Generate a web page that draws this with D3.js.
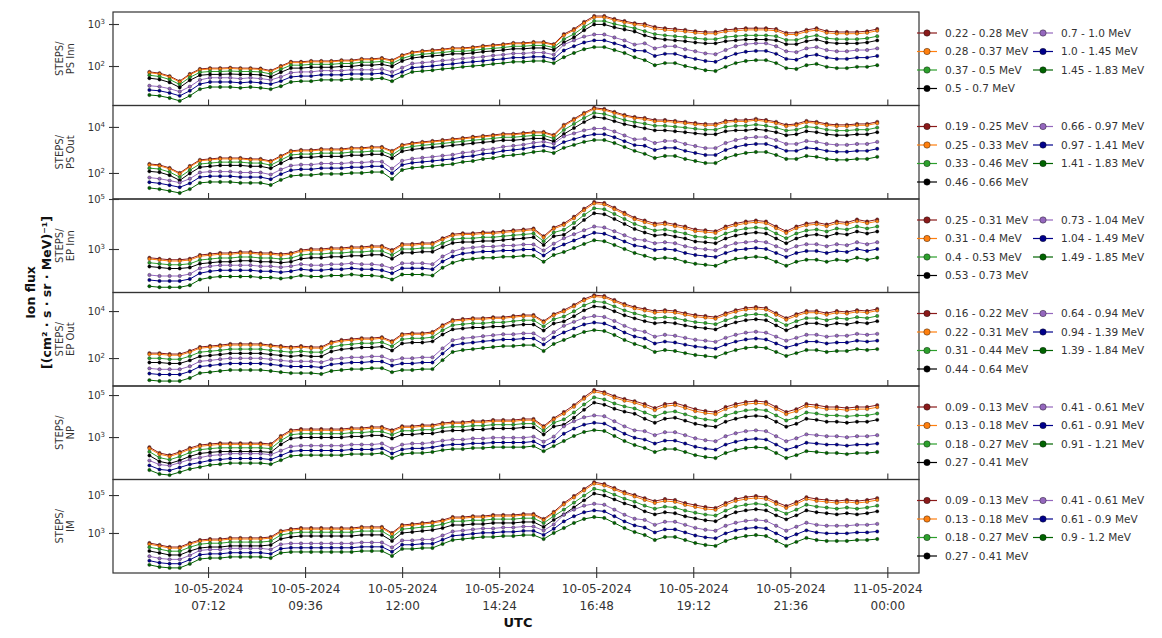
<!DOCTYPE html>
<html>
<head>
<meta charset="utf-8">
<script src="https://cdn.jsdelivr.net/npm/d3@7"></script>
<style>
  body { margin: 0; background: #fff; }
  svg text { font-family: "DejaVu Sans", sans-serif; }
</style>
</head>
<body>
<svg id="chart" width="1162" height="638"></svg>
<script>
// ---- data -------------------------------------------------------------
// Sample times on 10-05-2024 (UTC), 15-minute cadence
const sampleTimes = ["05:45","06:00","06:15","06:30","06:45","07:00","07:15","07:30","07:45","08:00","08:15","08:30","08:45","09:00","09:15","09:30","09:45","10:00","10:15","10:30","10:45","11:00","11:15","11:30","11:45","12:00","12:15","12:30","12:45","13:00","13:15","13:30","13:45","14:00","14:15","14:30","14:45","15:00","15:15","15:30","15:45","16:00","16:15","16:30","16:45","17:00","17:15","17:30","17:45","18:00","18:15","18:30","18:45","19:00","19:15","19:30","19:45","20:00","20:15","20:30","20:45","21:00","21:15","21:30","21:45","22:00","22:15","22:30","22:45","23:00","23:15","23:30","23:45"];

const xTickTimes = ["2024-05-10 07:12","2024-05-10 09:36","2024-05-10 12:00","2024-05-10 14:24","2024-05-10 16:48","2024-05-10 19:12","2024-05-10 21:36","2024-05-11 00:00"];
const xTickLabels = [["10-05-2024","07:12"],["10-05-2024","09:36"],["10-05-2024","12:00"],["10-05-2024","14:24"],["10-05-2024","16:48"],["10-05-2024","19:12"],["10-05-2024","21:36"],["11-05-2024","00:00"]];

const panelNames = ["PS Inn","PS Out","EP Inn","EP Out","NP","IM"];
// labelled decades (exponents) on each panel's flux axis
const yTickExponents = [[2,3],[2,4],[3,5],[2,4],[3,5],[3,5]];

const psInnBands = ["0.22 - 0.28 MeV","0.28 - 0.37 MeV","0.37 - 0.5 MeV","0.5 - 0.7 MeV","0.7 - 1.0 MeV","1.0 - 1.45 MeV","1.45 - 1.83 MeV"];
const psOutBands = ["0.19 - 0.25 MeV","0.25 - 0.33 MeV","0.33 - 0.46 MeV","0.46 - 0.66 MeV","0.66 - 0.97 MeV","0.97 - 1.41 MeV","1.41 - 1.83 MeV"];
const epInnBands = ["0.25 - 0.31 MeV","0.31 - 0.4 MeV","0.4 - 0.53 MeV","0.53 - 0.73 MeV","0.73 - 1.04 MeV","1.04 - 1.49 MeV","1.49 - 1.85 MeV"];
const epOutBands = ["0.16 - 0.22 MeV","0.22 - 0.31 MeV","0.31 - 0.44 MeV","0.44 - 0.64 MeV","0.64 - 0.94 MeV","0.94 - 1.39 MeV","1.39 - 1.84 MeV"];
const npBands = ["0.09 - 0.13 MeV","0.13 - 0.18 MeV","0.18 - 0.27 MeV","0.27 - 0.41 MeV","0.41 - 0.61 MeV","0.61 - 0.91 MeV","0.91 - 1.21 MeV"];
const imBands = ["0.09 - 0.13 MeV","0.13 - 0.18 MeV","0.18 - 0.27 MeV","0.27 - 0.41 MeV","0.41 - 0.61 MeV","0.61 - 0.9 MeV","0.9 - 1.2 MeV"];

// log10 of ion flux [(cm^2 s sr MeV)^-1], one row per energy channel (low -> high energy)
const psInnFlux = [
  [1.86,1.83,1.76,1.64,1.81,1.93,1.95,1.95,1.96,1.95,1.95,1.94,1.89,2.00,2.10,2.10,2.12,2.12,2.12,2.14,2.14,2.17,2.17,2.19,2.14,2.26,2.33,2.36,2.38,2.40,2.43,2.43,2.45,2.48,2.50,2.52,2.55,2.55,2.57,2.57,2.52,2.76,2.88,3.05,3.19,3.19,3.12,3.07,3.02,3.00,2.93,2.90,2.88,2.86,2.83,2.81,2.81,2.86,2.88,2.90,2.90,2.90,2.88,2.79,2.79,2.86,2.90,2.83,2.81,2.81,2.81,2.83,2.88],
  [1.84,1.81,1.74,1.62,1.79,1.91,1.93,1.93,1.94,1.93,1.93,1.92,1.87,1.98,2.08,2.08,2.10,2.10,2.10,2.12,2.12,2.15,2.15,2.17,2.12,2.24,2.31,2.34,2.36,2.38,2.41,2.41,2.43,2.46,2.48,2.50,2.53,2.53,2.55,2.55,2.50,2.73,2.85,3.02,3.16,3.16,3.09,3.04,2.99,2.96,2.89,2.86,2.84,2.82,2.79,2.77,2.77,2.82,2.84,2.86,2.86,2.86,2.84,2.75,2.75,2.82,2.86,2.79,2.77,2.77,2.77,2.79,2.84],
  [1.78,1.75,1.68,1.56,1.73,1.85,1.87,1.87,1.88,1.87,1.87,1.86,1.81,1.92,2.02,2.02,2.04,2.04,2.04,2.06,2.06,2.09,2.09,2.11,2.06,2.18,2.25,2.28,2.30,2.32,2.35,2.35,2.37,2.40,2.42,2.44,2.47,2.47,2.49,2.49,2.44,2.64,2.76,2.93,3.07,3.07,3.00,2.95,2.90,2.83,2.76,2.73,2.71,2.69,2.66,2.64,2.64,2.69,2.71,2.73,2.73,2.73,2.71,2.62,2.62,2.69,2.73,2.66,2.64,2.64,2.64,2.66,2.71],
  [1.71,1.68,1.61,1.49,1.66,1.78,1.80,1.80,1.81,1.80,1.80,1.79,1.74,1.85,1.95,1.95,1.97,1.97,1.97,1.99,1.99,2.02,2.02,2.04,1.99,2.12,2.19,2.22,2.24,2.26,2.29,2.29,2.31,2.34,2.36,2.38,2.41,2.41,2.43,2.43,2.38,2.56,2.68,2.85,2.99,2.99,2.92,2.87,2.82,2.73,2.66,2.63,2.61,2.59,2.56,2.54,2.54,2.59,2.61,2.63,2.63,2.63,2.61,2.52,2.52,2.59,2.63,2.56,2.54,2.54,2.54,2.56,2.61],
  [1.53,1.51,1.46,1.39,1.51,1.67,1.72,1.72,1.72,1.70,1.72,1.70,1.67,1.74,1.84,1.86,1.86,1.89,1.89,1.89,1.91,1.91,1.91,1.93,1.86,1.96,2.06,2.08,2.10,2.13,2.15,2.18,2.20,2.22,2.25,2.27,2.30,2.30,2.32,2.32,2.27,2.51,2.61,2.70,2.75,2.75,2.68,2.61,2.51,2.54,2.42,2.47,2.47,2.40,2.35,2.30,2.28,2.38,2.47,2.52,2.54,2.54,2.47,2.35,2.33,2.42,2.45,2.38,2.35,2.35,2.38,2.38,2.42],
  [1.43,1.41,1.36,1.29,1.41,1.57,1.62,1.62,1.62,1.60,1.62,1.60,1.57,1.64,1.74,1.76,1.76,1.79,1.79,1.79,1.81,1.81,1.81,1.83,1.76,1.86,1.96,1.98,2.00,2.03,2.05,2.08,2.10,2.12,2.15,2.17,2.20,2.20,2.22,2.22,2.17,2.37,2.47,2.56,2.61,2.61,2.54,2.47,2.37,2.36,2.24,2.29,2.29,2.22,2.17,2.12,2.10,2.20,2.29,2.34,2.36,2.36,2.29,2.17,2.15,2.24,2.27,2.20,2.17,2.17,2.20,2.20,2.24],
  [1.31,1.29,1.24,1.17,1.29,1.45,1.50,1.50,1.50,1.48,1.50,1.48,1.45,1.52,1.62,1.64,1.64,1.67,1.67,1.67,1.69,1.69,1.69,1.71,1.64,1.76,1.86,1.88,1.90,1.93,1.95,1.98,2.00,2.02,2.05,2.07,2.10,2.10,2.12,2.12,2.07,2.21,2.31,2.40,2.45,2.45,2.38,2.31,2.21,2.14,2.02,2.07,2.07,2.00,1.95,1.90,1.88,1.98,2.07,2.12,2.14,2.14,2.07,1.95,1.93,2.02,2.05,1.98,1.95,1.95,1.98,1.98,2.02]
];

const psOutFlux = [
  [2.39,2.35,2.22,2.00,2.30,2.57,2.61,2.65,2.65,2.65,2.61,2.61,2.52,2.74,2.96,3.00,3.00,3.04,3.04,3.04,3.09,3.09,3.13,3.13,2.96,3.22,3.30,3.35,3.39,3.43,3.48,3.52,3.57,3.61,3.65,3.70,3.70,3.74,3.78,3.78,3.65,4.09,4.35,4.61,4.83,4.78,4.65,4.52,4.43,4.39,4.30,4.30,4.26,4.22,4.17,4.13,4.13,4.26,4.30,4.30,4.35,4.30,4.22,4.09,4.13,4.26,4.22,4.13,4.09,4.09,4.13,4.13,4.22],
  [2.35,2.31,2.18,1.96,2.26,2.53,2.57,2.61,2.61,2.61,2.57,2.57,2.48,2.70,2.92,2.96,2.96,3.00,3.00,3.00,3.05,3.05,3.09,3.09,2.92,3.18,3.26,3.31,3.35,3.39,3.44,3.48,3.53,3.57,3.61,3.66,3.66,3.70,3.74,3.74,3.61,4.04,4.30,4.56,4.78,4.73,4.60,4.47,4.38,4.33,4.24,4.24,4.20,4.16,4.11,4.07,4.07,4.20,4.24,4.24,4.29,4.24,4.16,4.03,4.07,4.20,4.16,4.07,4.03,4.03,4.07,4.07,4.16],
  [2.21,2.17,2.04,1.82,2.12,2.39,2.43,2.47,2.47,2.47,2.43,2.43,2.34,2.56,2.78,2.82,2.82,2.86,2.86,2.86,2.91,2.91,2.95,2.95,2.78,3.07,3.15,3.20,3.24,3.28,3.33,3.37,3.42,3.46,3.50,3.55,3.55,3.59,3.63,3.63,3.50,3.87,4.13,4.39,4.61,4.56,4.43,4.30,4.21,4.14,4.05,4.05,4.01,3.97,3.92,3.88,3.88,4.01,4.05,4.05,4.10,4.05,3.97,3.84,3.88,4.01,3.97,3.88,3.84,3.84,3.88,3.88,3.97],
  [2.07,2.03,1.90,1.68,1.98,2.25,2.29,2.33,2.33,2.33,2.29,2.29,2.20,2.42,2.64,2.68,2.68,2.72,2.72,2.72,2.77,2.77,2.81,2.81,2.64,2.94,3.02,3.07,3.11,3.15,3.20,3.24,3.29,3.33,3.37,3.42,3.42,3.46,3.50,3.50,3.37,3.69,3.95,4.21,4.43,4.38,4.25,4.12,4.03,3.94,3.85,3.85,3.81,3.77,3.72,3.68,3.68,3.81,3.85,3.85,3.90,3.85,3.77,3.64,3.68,3.81,3.77,3.68,3.64,3.64,3.68,3.68,3.77],
  [1.80,1.75,1.67,1.58,1.75,2.02,2.06,2.06,2.06,2.02,2.02,2.02,1.93,2.15,2.32,2.36,2.36,2.41,2.41,2.41,2.45,2.45,2.49,2.49,2.19,2.53,2.62,2.66,2.70,2.75,2.79,2.88,2.92,3.01,3.05,3.14,3.18,3.23,3.31,3.36,3.27,3.59,3.72,3.85,3.93,3.93,3.80,3.63,3.46,3.48,3.30,3.39,3.39,3.26,3.17,3.08,3.08,3.30,3.43,3.52,3.56,3.56,3.43,3.26,3.26,3.39,3.35,3.26,3.22,3.22,3.26,3.26,3.35],
  [1.60,1.55,1.47,1.38,1.55,1.82,1.86,1.86,1.86,1.82,1.82,1.82,1.73,1.95,2.12,2.16,2.16,2.21,2.21,2.21,2.25,2.25,2.29,2.29,1.99,2.35,2.44,2.48,2.52,2.57,2.61,2.70,2.74,2.83,2.87,2.96,3.00,3.05,3.13,3.18,3.09,3.34,3.47,3.60,3.68,3.68,3.55,3.38,3.21,3.18,3.00,3.09,3.09,2.96,2.87,2.78,2.78,3.00,3.13,3.22,3.26,3.26,3.13,2.96,2.96,3.09,3.05,2.96,2.92,2.92,2.96,2.96,3.05],
  [1.35,1.30,1.22,1.13,1.30,1.57,1.61,1.61,1.61,1.57,1.57,1.57,1.48,1.70,1.87,1.91,1.91,1.96,1.96,1.96,2.00,2.00,2.04,2.04,1.74,2.13,2.22,2.26,2.30,2.35,2.39,2.48,2.52,2.61,2.65,2.74,2.78,2.83,2.91,2.96,2.87,3.09,3.22,3.35,3.43,3.43,3.30,3.13,2.96,2.83,2.65,2.74,2.74,2.61,2.52,2.43,2.43,2.65,2.78,2.87,2.91,2.91,2.78,2.61,2.61,2.74,2.70,2.61,2.57,2.57,2.61,2.61,2.70]
];

const epInnFlux = [
  [2.65,2.61,2.57,2.57,2.61,2.76,2.80,2.84,2.84,2.88,2.88,2.84,2.84,2.80,2.84,2.96,3.00,3.00,3.04,3.04,3.08,3.08,3.12,3.12,2.96,3.20,3.20,3.24,3.24,3.43,3.59,3.63,3.63,3.67,3.67,3.71,3.75,3.78,3.82,3.51,3.86,4.02,4.29,4.61,4.88,4.84,4.65,4.45,4.25,4.14,4.02,4.06,3.98,3.90,3.78,3.75,3.71,3.90,4.02,4.10,4.14,4.10,3.90,3.71,3.90,4.02,4.06,3.98,4.10,4.06,4.18,4.10,4.18],
  [2.60,2.56,2.52,2.52,2.56,2.71,2.75,2.79,2.79,2.83,2.83,2.79,2.79,2.75,2.79,2.91,2.95,2.95,2.99,2.99,3.03,3.03,3.07,3.07,2.91,3.15,3.15,3.19,3.19,3.38,3.54,3.58,3.58,3.62,3.62,3.66,3.70,3.73,3.77,3.46,3.81,3.96,4.23,4.55,4.82,4.78,4.59,4.39,4.19,4.07,3.95,3.99,3.91,3.83,3.71,3.68,3.64,3.83,3.95,4.03,4.07,4.03,3.83,3.64,3.83,3.95,3.99,3.91,4.03,3.99,4.11,4.03,4.11],
  [2.45,2.41,2.37,2.37,2.41,2.56,2.60,2.64,2.64,2.68,2.68,2.64,2.64,2.60,2.64,2.76,2.80,2.80,2.84,2.84,2.88,2.88,2.92,2.92,2.76,3.00,3.00,3.04,3.04,3.23,3.39,3.43,3.43,3.47,3.47,3.51,3.55,3.58,3.62,3.31,3.66,3.77,4.04,4.36,4.63,4.59,4.40,4.20,4.00,3.86,3.74,3.78,3.70,3.62,3.50,3.47,3.43,3.62,3.74,3.82,3.86,3.82,3.62,3.43,3.62,3.74,3.78,3.70,3.82,3.78,3.90,3.82,3.90],
  [2.30,2.26,2.22,2.22,2.26,2.41,2.45,2.49,2.49,2.53,2.53,2.49,2.49,2.45,2.49,2.61,2.65,2.65,2.69,2.69,2.73,2.73,2.77,2.77,2.61,2.85,2.85,2.89,2.89,3.08,3.24,3.28,3.28,3.32,3.32,3.36,3.40,3.43,3.47,3.16,3.51,3.57,3.84,4.16,4.43,4.39,4.20,4.00,3.80,3.66,3.54,3.58,3.50,3.42,3.30,3.27,3.23,3.42,3.54,3.62,3.66,3.62,3.42,3.23,3.42,3.54,3.58,3.50,3.62,3.58,3.70,3.62,3.70],
  [1.96,1.92,1.92,1.92,2.00,2.23,2.31,2.35,2.35,2.35,2.35,2.31,2.31,2.27,2.31,2.39,2.35,2.35,2.39,2.39,2.43,2.39,2.39,2.35,2.23,2.43,2.43,2.43,2.39,2.70,2.90,3.02,3.06,3.10,3.10,3.14,3.14,3.18,3.18,2.94,3.21,3.43,3.59,3.75,3.90,3.86,3.71,3.55,3.39,3.35,3.23,3.27,3.23,3.11,3.03,2.99,2.95,3.11,3.23,3.27,3.31,3.27,3.11,2.95,3.11,3.19,3.19,3.11,3.19,3.15,3.27,3.19,3.27],
  [1.76,1.72,1.72,1.72,1.80,2.03,2.11,2.15,2.15,2.15,2.15,2.11,2.11,2.07,2.11,2.19,2.15,2.15,2.19,2.19,2.23,2.19,2.19,2.15,2.03,2.23,2.23,2.23,2.19,2.50,2.70,2.82,2.86,2.90,2.90,2.94,2.94,2.98,2.98,2.74,3.01,3.18,3.34,3.50,3.65,3.61,3.46,3.30,3.14,3.08,2.96,3.00,2.96,2.84,2.76,2.72,2.68,2.84,2.96,3.00,3.04,3.00,2.84,2.68,2.84,2.92,2.92,2.84,2.92,2.88,3.00,2.92,3.00],
  [1.51,1.47,1.47,1.47,1.55,1.78,1.86,1.90,1.90,1.90,1.90,1.86,1.86,1.82,1.86,1.94,1.90,1.90,1.94,1.94,1.98,1.94,1.94,1.90,1.78,1.98,1.98,1.98,1.94,2.25,2.45,2.57,2.61,2.65,2.65,2.69,2.69,2.73,2.73,2.49,2.76,2.88,3.04,3.20,3.35,3.31,3.16,3.00,2.84,2.73,2.61,2.65,2.61,2.49,2.41,2.37,2.33,2.49,2.61,2.65,2.69,2.65,2.49,2.33,2.49,2.57,2.57,2.49,2.57,2.53,2.65,2.57,2.65]
];

const epOutFlux = [
  [2.21,2.21,2.17,2.17,2.30,2.47,2.51,2.55,2.60,2.60,2.60,2.60,2.55,2.51,2.47,2.51,2.47,2.47,2.68,2.77,2.81,2.85,2.85,2.89,2.72,3.02,3.06,3.06,3.11,3.40,3.62,3.66,3.70,3.70,3.74,3.74,3.79,3.83,3.83,3.57,3.87,4.04,4.26,4.51,4.68,4.64,4.47,4.30,4.17,4.09,4.00,4.04,4.00,3.91,3.83,3.79,3.74,3.91,4.04,4.13,4.17,4.13,3.91,3.70,3.87,4.00,4.00,3.91,4.00,3.96,4.04,4.00,4.09],
  [2.16,2.16,2.12,2.12,2.25,2.42,2.46,2.50,2.55,2.55,2.55,2.55,2.50,2.46,2.42,2.46,2.42,2.42,2.63,2.72,2.76,2.80,2.80,2.84,2.67,2.97,3.01,3.01,3.06,3.35,3.57,3.61,3.65,3.65,3.69,3.69,3.74,3.78,3.78,3.52,3.82,3.98,4.20,4.45,4.62,4.58,4.41,4.24,4.11,4.02,3.93,3.97,3.93,3.84,3.76,3.72,3.67,3.84,3.97,4.06,4.10,4.06,3.84,3.63,3.80,3.93,3.93,3.84,3.93,3.89,3.97,3.93,4.02],
  [1.99,1.99,1.95,1.95,2.08,2.25,2.29,2.33,2.38,2.38,2.38,2.38,2.33,2.29,2.25,2.29,2.25,2.25,2.46,2.55,2.59,2.63,2.63,2.67,2.50,2.80,2.84,2.84,2.89,3.18,3.40,3.44,3.48,3.48,3.52,3.52,3.57,3.61,3.61,3.35,3.65,3.77,3.99,4.24,4.41,4.37,4.20,4.03,3.90,3.79,3.70,3.74,3.70,3.61,3.53,3.49,3.44,3.61,3.74,3.83,3.87,3.83,3.61,3.40,3.57,3.70,3.70,3.61,3.70,3.66,3.74,3.70,3.79],
  [1.81,1.81,1.77,1.77,1.90,2.07,2.11,2.15,2.20,2.20,2.20,2.20,2.15,2.11,2.07,2.11,2.07,2.07,2.28,2.37,2.41,2.45,2.45,2.49,2.32,2.62,2.66,2.66,2.71,3.00,3.22,3.26,3.30,3.30,3.34,3.34,3.39,3.43,3.43,3.17,3.47,3.56,3.78,4.03,4.20,4.16,3.99,3.82,3.69,3.57,3.48,3.52,3.48,3.39,3.31,3.27,3.22,3.39,3.52,3.61,3.65,3.61,3.39,3.18,3.35,3.48,3.48,3.39,3.48,3.44,3.52,3.48,3.57],
  [1.56,1.52,1.52,1.52,1.65,1.86,1.90,1.95,1.99,1.99,1.99,1.99,1.95,1.90,1.86,1.86,1.86,1.82,1.95,1.99,2.03,2.03,2.07,2.07,1.90,1.99,1.99,2.03,2.03,2.41,2.76,2.84,2.88,2.93,2.97,3.01,3.01,3.05,3.05,2.80,3.10,3.37,3.54,3.71,3.79,3.75,3.58,3.37,3.20,3.12,2.91,2.99,2.95,2.86,2.78,2.74,2.69,2.86,2.99,3.08,3.12,3.08,2.91,2.74,2.86,2.99,2.99,2.91,2.95,2.95,3.03,2.99,3.03],
  [1.34,1.30,1.30,1.30,1.43,1.64,1.68,1.73,1.77,1.77,1.77,1.77,1.73,1.68,1.64,1.64,1.64,1.60,1.73,1.77,1.81,1.81,1.85,1.85,1.68,1.77,1.77,1.81,1.81,2.19,2.54,2.62,2.66,2.71,2.75,2.79,2.79,2.83,2.83,2.58,2.88,3.09,3.26,3.43,3.51,3.47,3.30,3.09,2.92,2.83,2.62,2.70,2.66,2.57,2.49,2.45,2.40,2.57,2.70,2.79,2.83,2.79,2.62,2.45,2.57,2.70,2.70,2.62,2.66,2.66,2.74,2.70,2.74],
  [1.06,1.02,1.02,1.02,1.15,1.36,1.40,1.45,1.49,1.49,1.49,1.49,1.45,1.40,1.36,1.36,1.36,1.32,1.45,1.49,1.53,1.53,1.57,1.57,1.40,1.49,1.49,1.53,1.53,1.91,2.26,2.34,2.38,2.43,2.47,2.51,2.51,2.55,2.55,2.30,2.60,2.77,2.94,3.11,3.19,3.15,2.98,2.77,2.60,2.47,2.26,2.34,2.30,2.21,2.13,2.09,2.04,2.21,2.34,2.43,2.47,2.43,2.26,2.09,2.21,2.34,2.34,2.26,2.30,2.30,2.38,2.34,2.38]
];

const npFlux = [
  [2.52,2.24,2.14,2.29,2.48,2.62,2.67,2.71,2.71,2.71,2.71,2.71,2.67,3.05,3.33,3.38,3.38,3.38,3.38,3.38,3.43,3.43,3.48,3.48,3.33,3.52,3.52,3.57,3.57,3.67,3.71,3.71,3.76,3.76,3.81,3.81,3.81,3.86,3.86,3.52,3.90,4.19,4.52,4.90,5.24,5.14,4.95,4.81,4.71,4.57,4.38,4.57,4.62,4.48,4.33,4.24,4.19,4.43,4.57,4.67,4.71,4.67,4.43,4.19,4.33,4.57,4.52,4.43,4.43,4.38,4.43,4.43,4.52],
  [2.46,2.18,2.08,2.23,2.42,2.56,2.61,2.65,2.65,2.65,2.65,2.65,2.61,2.99,3.27,3.32,3.32,3.32,3.32,3.32,3.37,3.37,3.42,3.42,3.27,3.46,3.46,3.51,3.51,3.61,3.65,3.65,3.70,3.70,3.75,3.75,3.75,3.80,3.80,3.46,3.84,4.11,4.44,4.82,5.16,5.06,4.87,4.73,4.63,4.47,4.28,4.47,4.52,4.38,4.23,4.14,4.09,4.33,4.47,4.57,4.61,4.57,4.33,4.09,4.23,4.47,4.42,4.33,4.33,4.28,4.33,4.33,4.42],
  [2.30,2.02,1.92,2.07,2.26,2.40,2.45,2.49,2.49,2.49,2.49,2.49,2.45,2.83,3.11,3.16,3.16,3.16,3.16,3.16,3.21,3.21,3.26,3.26,3.11,3.30,3.30,3.35,3.35,3.45,3.49,3.49,3.54,3.54,3.59,3.59,3.59,3.64,3.64,3.30,3.68,3.84,4.17,4.55,4.89,4.79,4.60,4.46,4.36,4.17,3.98,4.17,4.22,4.08,3.93,3.84,3.79,4.03,4.17,4.27,4.31,4.27,4.03,3.79,3.93,4.17,4.12,4.03,4.03,3.98,4.03,4.03,4.12],
  [2.12,1.84,1.74,1.89,2.08,2.22,2.27,2.31,2.31,2.31,2.31,2.31,2.27,2.65,2.93,2.98,2.98,2.98,2.98,2.98,3.03,3.03,3.08,3.08,2.93,3.12,3.12,3.17,3.17,3.27,3.31,3.31,3.36,3.36,3.41,3.41,3.41,3.46,3.46,3.12,3.50,3.59,3.92,4.30,4.64,4.54,4.35,4.21,4.11,3.87,3.68,3.87,3.92,3.78,3.63,3.54,3.49,3.73,3.87,3.97,4.01,3.97,3.73,3.49,3.63,3.87,3.82,3.73,3.73,3.68,3.73,3.73,3.82],
  [1.88,1.69,1.64,1.78,1.93,2.02,2.12,2.16,2.21,2.21,2.21,2.21,2.16,2.35,2.55,2.59,2.59,2.59,2.59,2.59,2.64,2.64,2.64,2.69,2.45,2.64,2.69,2.69,2.74,2.83,2.88,2.88,2.93,2.93,2.97,2.97,2.97,2.97,3.02,2.78,3.02,3.51,3.75,3.94,4.03,3.99,3.75,3.51,3.32,3.28,3.09,3.23,3.23,3.09,2.94,2.85,2.80,3.04,3.18,3.28,3.32,3.28,3.04,2.80,2.94,3.13,3.09,3.04,3.04,2.99,3.04,3.04,3.09],
  [1.65,1.46,1.41,1.55,1.70,1.79,1.89,1.93,1.98,1.98,1.98,1.98,1.93,2.12,2.32,2.36,2.36,2.36,2.36,2.36,2.41,2.41,2.41,2.46,2.22,2.41,2.46,2.46,2.51,2.60,2.65,2.65,2.70,2.70,2.74,2.74,2.74,2.74,2.79,2.55,2.79,3.16,3.40,3.59,3.68,3.64,3.40,3.16,2.97,2.88,2.69,2.83,2.83,2.69,2.54,2.45,2.40,2.64,2.78,2.88,2.92,2.88,2.64,2.40,2.54,2.73,2.69,2.64,2.64,2.59,2.64,2.64,2.69],
  [1.43,1.24,1.19,1.33,1.48,1.57,1.67,1.71,1.76,1.76,1.76,1.76,1.71,1.90,2.10,2.14,2.14,2.14,2.14,2.14,2.19,2.19,2.19,2.24,2.00,2.19,2.24,2.24,2.29,2.38,2.43,2.43,2.48,2.48,2.52,2.52,2.52,2.52,2.57,2.33,2.57,2.81,3.05,3.24,3.33,3.29,3.05,2.81,2.62,2.48,2.29,2.43,2.43,2.29,2.14,2.05,2.00,2.24,2.38,2.48,2.52,2.48,2.24,2.00,2.14,2.33,2.29,2.24,2.24,2.19,2.24,2.24,2.29]
];

const imFlux = [
  [2.47,2.37,2.26,2.26,2.47,2.63,2.68,2.68,2.74,2.74,2.74,2.74,2.79,3.11,3.21,3.26,3.26,3.26,3.26,3.26,3.26,3.32,3.32,3.32,3.00,3.42,3.47,3.53,3.58,3.68,3.84,3.84,3.89,3.89,3.95,3.95,3.95,4.00,4.00,3.74,4.11,4.58,4.95,5.32,5.68,5.58,5.37,5.16,5.00,4.84,4.68,4.79,4.74,4.58,4.47,4.37,4.32,4.58,4.79,4.89,4.95,4.89,4.63,4.42,4.63,4.89,4.79,4.74,4.68,4.74,4.68,4.74,4.84],
  [2.41,2.31,2.20,2.20,2.41,2.57,2.62,2.62,2.68,2.68,2.68,2.68,2.73,3.05,3.15,3.20,3.20,3.20,3.20,3.20,3.20,3.26,3.26,3.26,2.94,3.36,3.41,3.47,3.52,3.62,3.78,3.78,3.83,3.83,3.89,3.89,3.89,3.94,3.94,3.68,4.05,4.50,4.87,5.24,5.60,5.50,5.29,5.08,4.92,4.74,4.58,4.69,4.64,4.48,4.37,4.27,4.22,4.48,4.69,4.79,4.85,4.79,4.53,4.32,4.53,4.79,4.69,4.64,4.58,4.64,4.58,4.64,4.74],
  [2.25,2.15,2.04,2.04,2.25,2.41,2.46,2.46,2.52,2.52,2.52,2.52,2.57,2.89,2.99,3.04,3.04,3.04,3.04,3.04,3.04,3.10,3.10,3.10,2.78,3.20,3.25,3.31,3.36,3.46,3.62,3.62,3.67,3.67,3.73,3.73,3.73,3.78,3.78,3.52,3.89,4.23,4.60,4.97,5.33,5.23,5.02,4.81,4.65,4.44,4.28,4.39,4.34,4.18,4.07,3.97,3.92,4.18,4.39,4.49,4.55,4.49,4.23,4.02,4.23,4.49,4.39,4.34,4.28,4.34,4.28,4.34,4.44],
  [2.05,1.95,1.84,1.84,2.05,2.21,2.26,2.26,2.32,2.32,2.32,2.32,2.37,2.69,2.79,2.84,2.84,2.84,2.84,2.84,2.84,2.90,2.90,2.90,2.58,3.00,3.05,3.11,3.16,3.26,3.42,3.42,3.47,3.47,3.53,3.53,3.53,3.58,3.58,3.32,3.69,3.98,4.35,4.72,5.08,4.98,4.77,4.56,4.40,4.14,3.98,4.09,4.04,3.88,3.77,3.67,3.62,3.88,4.09,4.19,4.25,4.19,3.93,3.72,3.93,4.19,4.09,4.04,3.98,4.04,3.98,4.04,4.14],
  [1.77,1.66,1.61,1.61,1.82,2.08,2.13,2.13,2.19,2.19,2.19,2.19,2.13,2.40,2.45,2.45,2.45,2.45,2.45,2.45,2.45,2.50,2.50,2.50,2.24,2.61,2.61,2.66,2.66,2.87,3.08,3.13,3.19,3.24,3.24,3.29,3.29,3.34,3.34,3.13,3.45,3.96,4.23,4.44,4.54,4.49,4.23,3.96,3.75,3.69,3.43,3.59,3.59,3.43,3.27,3.17,3.12,3.38,3.54,3.64,3.69,3.64,3.38,3.12,3.33,3.54,3.43,3.38,3.38,3.38,3.43,3.43,3.48],
  [1.54,1.43,1.38,1.38,1.59,1.85,1.90,1.90,1.96,1.96,1.96,1.96,1.90,2.17,2.22,2.22,2.22,2.22,2.22,2.22,2.22,2.27,2.27,2.27,2.01,2.38,2.38,2.43,2.43,2.64,2.85,2.90,2.96,3.01,3.01,3.06,3.06,3.11,3.11,2.90,3.22,3.61,3.88,4.09,4.19,4.14,3.88,3.61,3.40,3.29,3.03,3.19,3.19,3.03,2.87,2.77,2.72,2.98,3.14,3.24,3.29,3.24,2.98,2.72,2.93,3.14,3.03,2.98,2.98,2.98,3.03,3.03,3.08],
  [1.32,1.21,1.16,1.16,1.37,1.63,1.68,1.68,1.74,1.74,1.74,1.74,1.68,1.95,2.00,2.00,2.00,2.00,2.00,2.00,2.00,2.05,2.05,2.05,1.79,2.16,2.16,2.21,2.21,2.42,2.63,2.68,2.74,2.79,2.79,2.84,2.84,2.89,2.89,2.68,3.00,3.26,3.53,3.74,3.84,3.79,3.53,3.26,3.05,2.89,2.63,2.79,2.79,2.63,2.47,2.37,2.32,2.58,2.74,2.84,2.89,2.84,2.58,2.32,2.53,2.74,2.63,2.58,2.58,2.58,2.63,2.63,2.68]
];

// ---- layout & style ---------------------------------------------------
const channelColors = ["#8b1a1a", "#ff7f0e", "#2ca02c", "#000000", "#9467bd", "#00008b", "#006400"];
// visible flux range of each panel, as log10 bounds
const yLogRange = [[1.06, 3.286], [0.87, 4.93], [1.26, 5.0], [0.81, 4.79], [0.98, 5.43], [0.89, 5.82]];

const fluxByPanel = [psInnFlux, psOutFlux, epInnFlux, epOutFlux, npFlux, imFlux];
const bandsByPanel = [psInnBands, psOutBands, epInnBands, epOutBands, npBands, imBands];

const frame = { left: 113, right: 919, top: 12, bottom: 573 };
const panelHeight = (frame.bottom - frame.top) / panelNames.length;
const textColor = "#333";
const font = '"DejaVu Sans", sans-serif';

const svg = d3.select("#chart");
const parseTime = d3.utcParse("%Y-%m-%d %H:%M");
const sampleDates = sampleTimes.map(t => parseTime("2024-05-10 " + t));
const tickDates = xTickTimes.map(parseTime);

const x = d3.scaleUtc()
  .domain([parseTime("2024-05-10 04:51"), parseTime("2024-05-11 00:47")])
  .range([frame.left, frame.right]);

const defs = svg.append("defs");

panelNames.forEach((name, k) => {
  const top = frame.top + k * panelHeight;
  const bottom = top + panelHeight;
  const [lo, hi] = yLogRange[k];
  const y = d3.scaleLog().domain([10 ** lo, 10 ** hi]).range([bottom, top]);

  const clipId = "panel-clip-" + k;
  defs.append("clipPath").attr("id", clipId)
    .append("rect")
    .attr("x", frame.left).attr("y", top)
    .attr("width", frame.right - frame.left).attr("height", panelHeight);

  const panel = svg.append("g").attr("class", "panel");
  const plot = panel.append("g").attr("clip-path", `url(#${clipId})`);

  const line = d3.line().x(d => x(d.t)).y(d => y(d.v));

  // one line + point markers per energy channel
  fluxByPanel[k].forEach((series, c) => {
    const pts = series.map((lv, i) => ({ t: sampleDates[i], v: 10 ** lv }));
    plot.append("path")
      .datum(pts)
      .attr("fill", "none")
      .attr("stroke", channelColors[c])
      .attr("stroke-width", 1)
      .attr("d", line);
    plot.append("g")
      .selectAll("circle")
      .data(pts)
      .join("circle")
      .attr("cx", d => x(d.t))
      .attr("cy", d => y(d.v))
      .attr("r", 1.7)
      .attr("fill", channelColors[c])
      .attr("stroke", "#111")
      .attr("stroke-opacity", 0.75)
      .attr("stroke-width", 0.45);
  });

  // panel frame
  panel.append("rect")
    .attr("x", frame.left).attr("y", top)
    .attr("width", frame.right - frame.left).attr("height", panelHeight)
    .attr("fill", "none").attr("stroke", "#333").attr("stroke-width", 1.2);

  // flux axis: labelled decades as 10^n
  const yAxis = panel.append("g")
    .attr("transform", `translate(${frame.left + 6},0)`)
    .call(d3.axisLeft(y)
      .tickValues(yTickExponents[k].map(e => 10 ** e))
      .tickSize(10)
      .tickPadding(4)
      .tickFormat(() => ""));
  yAxis.select(".domain").remove();
  yAxis.selectAll(".tick line").attr("stroke", "#333").attr("stroke-width", 1.1);
  yAxis.selectAll(".tick text")
    .attr("font-family", font)
    .attr("font-size", 10)
    .attr("fill", textColor)
    .each(function (d) {
      const t = d3.select(this);
      t.text("10");
      t.append("tspan").attr("dy", "-0.5em").attr("font-size", 7).text(Math.round(Math.log10(d)));
    });

  // time ticks pointing into the panel
  const xIn = panel.append("g")
    .attr("transform", `translate(0,${bottom})`)
    .call(d3.axisTop(x).tickValues(tickDates).tickSize(6).tickFormat(() => ""));
  xIn.select(".domain").remove();
  xIn.selectAll(".tick line").attr("stroke", "#333").attr("stroke-width", 1.1);

  // bottom panel carries the time labels
  if (k === panelNames.length - 1) {
    const xOut = panel.append("g")
      .attr("transform", `translate(0,${bottom})`)
      .call(d3.axisBottom(x).tickValues(tickDates).tickSize(5).tickPadding(4));
    xOut.select(".domain").remove();
    xOut.selectAll(".tick line").attr("stroke", "#333").attr("stroke-width", 1.1);
    xOut.selectAll(".tick text")
      .attr("font-family", font)
      .attr("font-size", 12)
      .attr("fill", textColor)
      .attr("dy", null)
      .each(function (d, i) {
        const t = d3.select(this).text(null);
        t.append("tspan").attr("x", 0).attr("dy", "0.95em").text(xTickLabels[i][0]);
        t.append("tspan").attr("x", 0).attr("dy", "17px").text(xTickLabels[i][1]);
      });
  }

  // instrument label
  const cy = (top + bottom) / 2;
  [["STEPS/", 63], ["" + name, 73.5]].forEach(([txt, bx]) => {
    panel.append("text")
      .attr("transform", `translate(${bx},${cy}) rotate(-90)`)
      .attr("text-anchor", "middle")
      .attr("font-family", font)
      .attr("font-size", 10)
      .attr("fill", textColor)
      .text(txt);
  });

  // legend: two columns (4 + 3 channels)
  const legend = svg.append("g").attr("class", "legend");
  bandsByPanel[k].forEach((label, c) => {
    const col = c < 4 ? 0 : 1;
    const row = c < 4 ? c : c - 4;
    const hx = col === 0 ? 927 : 1043;
    const ly = top + 21 + row * 18.5;
    legend.append("line")
      .attr("x1", hx - 10).attr("x2", hx + 10)
      .attr("y1", ly).attr("y2", ly)
      .attr("stroke", channelColors[c]).attr("stroke-width", 1.2);
    legend.append("circle")
      .attr("cx", hx).attr("cy", ly).attr("r", 3.2)
      .attr("fill", channelColors[c])
      .attr("stroke", "#111").attr("stroke-opacity", 0.7).attr("stroke-width", 0.6);
    legend.append("text")
      .attr("x", hx + 18).attr("y", ly).attr("dy", "0.35em")
      .attr("font-family", font)
      .attr("font-size", 10.5)
      .attr("fill", textColor)
      .text(label);
  });
});

// shared axis titles
const midY = (frame.top + frame.bottom) / 2;
[["Ion flux", 35], ["[(cm\u00B2 \u00B7 s \u00B7 sr \u00B7 MeV)\u207B\u00B9]", 51]].forEach(([txt, bx]) => {
  svg.append("text")
    .attr("transform", `translate(${bx},${midY}) rotate(-90)`)
    .attr("text-anchor", "middle")
    .attr("font-family", font)
    .attr("font-size", 12.5)
    .attr("font-weight", "bold")
    .attr("fill", "#111")
    .text(txt);
});

svg.append("text")
  .attr("x", 518).attr("y", 627)
  .attr("text-anchor", "middle")
  .attr("font-family", font)
  .attr("font-size", 13)
  .attr("font-weight", "bold")
  .attr("fill", "#111")
  .text("UTC");
</script>
</body>
</html>
